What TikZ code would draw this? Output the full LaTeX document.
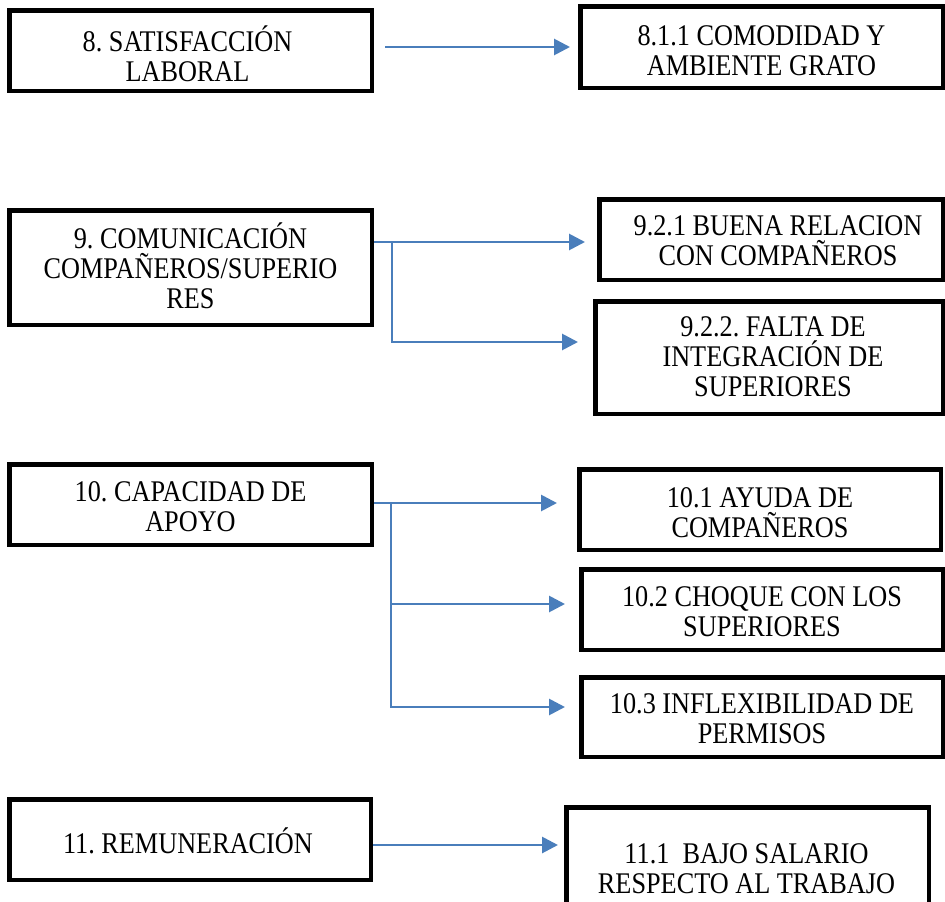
\documentclass[tikz,border=0pt]{standalone}
\usepackage{fontspec}
\newfontfamily\boxfont{Liberation Serif}[FakeStretch=0.875]
\usetikzlibrary{arrows.meta}
\definecolor{linkblue}{RGB}{74,126,187}
% symmetric strut: the centre of a text block falls midway between its first and last baselines
\newcommand\tstrut{\rule[-28pt]{0pt}{56pt}}
\frenchspacing
\begin{document}
\begin{tikzpicture}[x=1pt, y=-1pt,
  box/.style={draw=black, line width=4.5pt, rectangle, inner sep=0pt},
  txt/.style={align=center, inner sep=0pt,
    font={\boxfont\fontsize{30pt}{30pt}\selectfont\lineskiplimit=-100pt},
    execute at begin node=\tstrut, execute at end node=\tstrut},
  conn/.style={draw=linkblue, line width=2.8pt},
  arr/.style={conn, -{Triangle[length=16pt,width=16pt]}}]
\useasboundingbox (0,0) rectangle (945,902);
\begin{scope}
\clip (0,0) rectangle (945,902);

% ---- 8. Satisfacción laboral
\node[box, minimum width=362.5pt, minimum height=80.5pt,
  label={[txt, xshift=-3pt, yshift=-17pt]center:{8. SATISFACCIÓN\\LABORAL}}]
  (A) at (190.5,50.5) {};
\node[box, minimum width=362.5pt, minimum height=81.5pt,
  label={[txt, yshift=-18pt]center:{8.1.1 COMODIDAD Y\\AMBIENTE GRATO}}]
  (B) at (761.5,47) {};

% ---- 9. Comunicación
\node[box, minimum width=362.5pt, minimum height=114.5pt,
  label={[txt, yshift=-12.5pt]center:{9. COMUNICACIÓN\\COMPAÑEROS/SUPERIO\\RES}}]
  (C) at (190.5,267.5) {};
\node[box, minimum width=343.5pt, minimum height=80.5pt,
  label={[txt, xshift=7pt, yshift=-15.5pt]center:{9.2.1 BUENA RELACION\\CON COMPAÑEROS}}]
  (C1) at (771,239.5) {};
\node[box, minimum width=347.5pt, minimum height=112.5pt,
  label={[txt, xshift=4pt, yshift=-13pt]center:{9.2.2. FALTA DE\\INTEGRACIÓN DE\\SUPERIORES}}]
  (C2) at (769,357.5) {};

% ---- 10. Capacidad de apoyo
\node[box, minimum width=362.5pt, minimum height=80.5pt,
  label={[txt, yshift=-16pt]center:{10. CAPACIDAD DE\\APOYO}}]
  (D) at (190.5,504.5) {};
\node[box, minimum width=361.5pt, minimum height=80.5pt,
  label={[txt, yshift=-17pt]center:{10.1 AYUDA DE\\COMPAÑEROS}}]
  (D1) at (760,509.5) {};
\node[box, minimum width=361.5pt, minimum height=80.5pt,
  label={[txt, yshift=-16pt]center:{10.2 CHOQUE CON LOS\\SUPERIORES}}]
  (D2) at (762,609.5) {};
\node[box, minimum width=361.5pt, minimum height=79.5pt,
  label={[txt, yshift=-16pt]center:{10.3 INFLEXIBILIDAD DE\\PERMISOS}}]
  (D3) at (762,717) {};

% ---- 11. Remuneración
\node[box, minimum width=361.5pt, minimum height=80.5pt,
  label={[txt, xshift=-2pt, yshift=-13.5pt]center:{11. REMUNERACIÓN}}]
  (E) at (190,839.5) {};
\node[box, minimum width=362.5pt, minimum height=115.5pt,
  label={[txt, xshift=-1pt, yshift=-18pt]center:{11.1~ BAJO SALARIO\\RESPECTO AL TRABAJO}}]
  (E1) at (747.5,865) {};

% ---- connectors
\coordinate (j9)   at (392,242);
\coordinate (k9)   at (392,342);
\coordinate (j10)  at (391,503);
\coordinate (k10a) at (391,604);
\coordinate (k10b) at (391,707);
\coordinate (j11)  at (372,845);

\draw[arr, shorten <=11pt, shorten >=8pt] (A.east |- B.west) -- (B.west);

\draw[arr, shorten >=12pt] (C.east |- j9) -- (j9 -| C1.west);
\draw[arr, shorten >=15pt] (j9) -- (k9) -- (k9 -| C2.west);

\draw[arr, shorten >=20pt] (D.east |- j10) -- (j10 -| D1.west);
\draw[arr, shorten >=14pt] (k10a) -- (k10a -| D2.west);
\draw[arr, shorten >=14pt] (j10) -- (k10b) -- (k10b -| D3.west);

\draw[arr, shorten >=6pt] (E.east |- j11) -- (j11 -| E1.west);
\end{scope}
\end{tikzpicture}
\end{document}
